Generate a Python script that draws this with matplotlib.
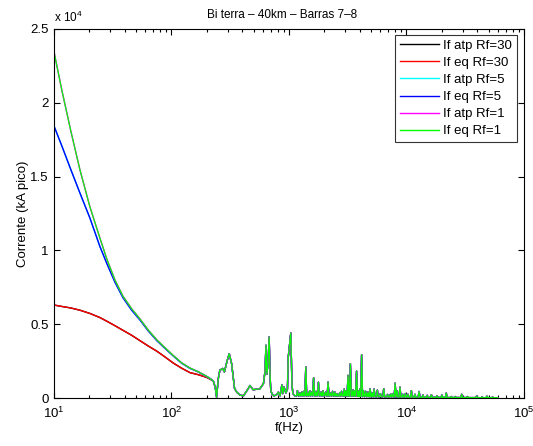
import math
import matplotlib
matplotlib.use("Agg")
import matplotlib.pyplot as plt
from matplotlib.ticker import FixedLocator, FuncFormatter, LogLocator, NullFormatter

plt.rcParams['font.family'] = ['Liberation Sans', 'DejaVu Sans']
plt.rcParams['mathtext.fontset'] = 'custom'
plt.rcParams['mathtext.rm'] = 'Liberation Sans'
plt.rcParams['mathtext.it'] = 'Liberation Sans'

# ---- low-frequency region (Hz) and fault current per fault resistance (A peak)
f_low = [10, 11.7, 13.9, 16.6, 20.2, 24.6, 28.2, 33, 38.6, 45.8, 54, 63.5,
         74.8, 88.1, 103.5, 122, 143.6, 169, 199, 215, 227]
i_rf1 = [23460, 20800, 18100, 15480, 12960, 10830, 9400, 8000, 6900, 6050, 5350, 4600,
         3950, 3400, 2880, 2380, 2030, 1780, 1470, 1300, 1150]
i_rf5 = [18430, 17050, 15480, 13900, 12200, 10260, 9100, 7850, 6800, 5950, 5280, 4540,
         3900, 3360, 2850, 2360, 2010, 1770, 1460, 1300, 1150]
i_rf30 = [6300, 6200, 6100, 5950, 5730, 5450, 5200, 4900, 4590, 4250, 3880, 3520,
          3180, 2780, 2370, 2020, 1720, 1580, 1400, 1260, 1150]

# ---- resonance region, common to all fault resistances
f_res = [236, 242, 250, 258, 266, 273, 282, 297, 310, 325, 344, 359, 382, 410,
         451, 465, 495, 531, 566, 606, 625, 637, 648, 665, 678, 690, 700, 720,
         744, 780, 813, 840, 870, 885, 907, 940, 970, 986, 1036, 1060, 1080, 1120]
i_res = [700, 50, 1300, 1880, 1950, 2000, 1770, 2500, 3000, 2320, 650, 400, 200, 150,
         650, 850, 560, 600, 630, 970, 1800, 3570, 1600, 2500, 4130, 1500, 500, 250,
         150, 200, 400, 150, 900, 300, 750, 350, 600, 2770, 4400, 900, 300, 150]

# ---- high-frequency resonance spikes: frequency, peak and floor between spikes
spike_f = [1180, 1240, 1290, 1340, 1390, 1450, 1500, 1560, 1620, 1700, 1780, 1870,
           1950, 2050, 2150, 2250, 2350, 2460, 2560, 2700, 2800, 2950, 3050, 3180,
           3330, 3500, 3620, 3760, 3900, 4000, 4150, 4300, 4500, 4700, 4900, 5100,
           5300, 5650, 6000, 6400, 6900, 7300, 7600, 8000, 8300, 8800, 9300, 9800,
           10300, 11000, 11800, 12800, 13800, 15000, 16300, 18200, 20000, 21800,
           24000, 26000, 29500, 33000, 39500, 44000, 48400, 54000]
spike_i = [500, 350, 400, 450, 2100, 350, 500, 400, 1370, 450, 1070, 400,
           500, 400, 1070, 350, 450, 400, 300, 350, 450, 600, 500, 1530,
           2320, 550, 500, 1820, 450, 600, 2930, 500, 450, 400, 620, 350,
           600, 530, 300, 620, 240, 250, 300, 1000, 500, 730, 250, 300,
           250, 500, 250, 440, 200, 180, 220, 160, 200, 330,
           100, 100, 250, 100, 120, 80, 120, 60]
spike_floor = [150, 150, 150, 150, 150, 150, 150, 150, 150, 150, 150, 150,
               150, 150, 140, 140, 140, 130, 130, 130, 130, 130, 130, 130,
               120, 120, 120, 120, 110, 110, 110, 100, 100, 100, 90, 90,
               90, 80, 80, 80, 70, 70, 70, 70, 60, 60, 60, 60,
               50, 50, 50, 50, 40, 40, 40, 40, 30, 30,
               30, 30, 30, 25, 25, 20, 20, 20]
f_end = 60000
i_end = 20

# build the shared high-frequency polyline from the spike table
f_hf, i_hf = [], []
for fs, pk, fl in zip(spike_f, spike_i, spike_floor):
    f_hf += [fs / 1.018, fs, fs * 1.018]
    i_hf += [fl, pk, fl]
f_hf.append(f_end)
i_hf.append(i_end)

f_all = f_low + f_res + f_hf


def full(low):
    return low + i_res + i_hf


series = [
    ("If atp Rf=30", i_rf30, "black", 1.0),
    ("If eq Rf=30", i_rf30, "red", 1.0),
    ("If atp Rf=5", i_rf5, "cyan", 1.0),
    ("If eq Rf=5", i_rf5, "blue", 1.0),
    ("If atp Rf=1", i_rf1, "magenta", 1.05),
    ("If eq Rf=1", i_rf1, "lime", 0.9),
]

FS = 9.5

fig = plt.figure(figsize=(5.33, 4.46), dpi=100)
ax = fig.add_axes([0.1013, 0.1076, 0.8818, 0.8274])

for label, low, color, lw in series:
    ax.plot(f_all, full(low), color=color, lw=lw, label=label)

ax.set_xscale('log')
ax.set_xlim(10, 1e5)
ax.set_ylim(0, 25000)
ax.yaxis.set_major_locator(FixedLocator([0, 5000, 10000, 15000, 20000, 25000]))
ax.yaxis.set_major_formatter(FuncFormatter(lambda v, p: f"{v / 1e4:g}"))
ax.xaxis.set_major_locator(FixedLocator([1e1, 1e2, 1e3, 1e4, 1e5]))
ax.xaxis.set_major_formatter(FuncFormatter(lambda v, p: r"$10^{%d}$" % round(math.log10(v))))
ax.xaxis.set_minor_locator(LogLocator(base=10, subs=range(2, 10)))
ax.xaxis.set_minor_formatter(NullFormatter())

ax.tick_params(which='both', direction='in', top=True, right=True,
               labelsize=FS, width=0.8, color='black')
ax.tick_params(which='major', length=4.5, pad=4)
ax.tick_params(axis='x', which='major', pad=5.5)
ax.tick_params(which='minor', length=2.5)
for sp in ax.spines.values():
    sp.set_linewidth(0.8)

ax.set_title("Bi terra – 40km – Barras 7–8", fontsize=8.5, pad=8, x=0.485)
ax.set_xlabel("f(Hz)", fontsize=FS, labelpad=1)
ax.set_ylabel("Corrente (kA pico)", fontsize=FS, labelpad=1)
ax.text(0.0, 1.012, r"x 10$^{4}$", transform=ax.transAxes, fontsize=8.5,
        ha='left', va='bottom')

leg = ax.legend(loc='upper right', bbox_to_anchor=(0.985, 0.984), borderaxespad=0,
                fontsize=FS, frameon=True, fancybox=False, edgecolor='black',
                handlelength=3.0, handletextpad=0.3, labelspacing=0.37,
                borderpad=0.36)
leg.get_frame().set_linewidth(0.8)
for h in leg.get_lines():
    h.set_linewidth(1.0)

fig.savefig("out.png", dpi=100)
